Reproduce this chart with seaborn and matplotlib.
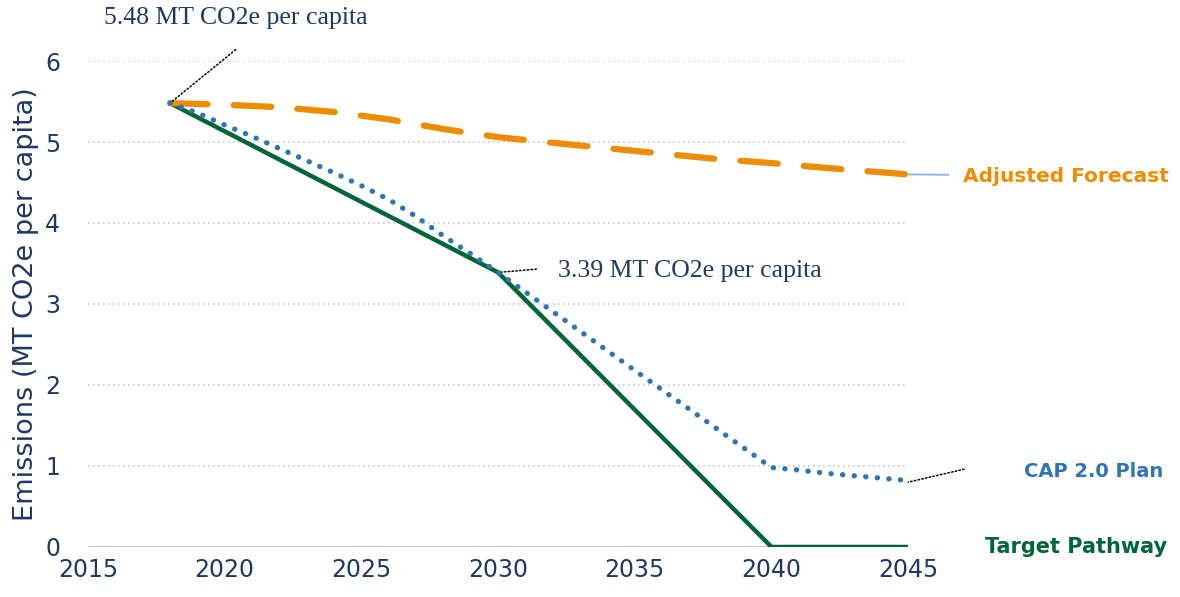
import matplotlib
matplotlib.use("Agg")
import matplotlib.pyplot as plt
import pandas as pd
import seaborn as sns

target_years = [2018, 2030, 2040, 2045]
target_vals = [5.48, 3.39, 0.0, 0.0]

plan_years = [2018, 2019, 2020, 2021, 2022, 2023, 2024, 2025, 2026, 2027, 2028, 2029, 2030,
              2035, 2040, 2041, 2042, 2043, 2044, 2045]
plan_vals = [5.48, 5.36, 5.21, 5.07, 4.92, 4.77, 4.62, 4.46, 4.29, 4.08, 3.84, 3.62, 3.39,
             2.18, 0.98, 0.95, 0.91, 0.88, 0.85, 0.82]

forecast_years = [2018, 2020, 2022, 2024, 2026, 2028, 2030, 2032, 2035, 2038, 2040, 2042, 2045]
forecast_vals = [5.48, 5.46, 5.43, 5.37, 5.28, 5.16, 5.06, 4.99, 4.89, 4.79, 4.74, 4.68, 4.60]

x_ticks = [2015, 2020, 2025, 2030, 2035, 2040, 2045]
y_ticks = [0, 1, 2, 3, 4, 5, 6]

NAVY = "#1f3864"
ORANGE = "#ee8c00"
BLUE = "#2e75b6"
GREEN = "#00663a"

sns.set_style("white")
plt.rcParams["font.family"] = ["DejaVu Sans"]

fig = plt.figure(figsize=(11.8, 5.97), dpi=100)
ax = fig.add_axes([0.0746, 0.0838, 0.695, 0.814])

df_target = pd.DataFrame({"year": target_years, "value": target_vals})
df_plan = pd.DataFrame({"year": plan_years, "value": plan_vals})
df_forecast = pd.DataFrame({"year": forecast_years, "value": forecast_vals})

# gridlines
for v in y_ticks[1:]:
    ax.axhline(v, color="#c8c8c8", lw=1.2, ls=(0, (1, 2)), zorder=0)
ax.axhline(0, color="#c8c8c8", lw=1.5, zorder=0)

sns.lineplot(data=df_forecast, x="year", y="value", ax=ax, color=ORANGE, lw=4.5,
             ls=(0, (6, 4.2)), dash_capstyle="round", zorder=3)
sns.lineplot(data=df_target, x="year", y="value", ax=ax, color=GREEN, lw=3.2, zorder=2)
sns.lineplot(data=df_plan, x="year", y="value", ax=ax, color=BLUE, lw=3.8,
             ls=(0, (0.05, 2.15)), dash_capstyle="round", zorder=4)

ax.set_xlim(2015, 2045)
ax.set_ylim(0, 6)
ax.set_xticks(x_ticks)
ax.set_yticks(y_ticks)
ax.tick_params(axis="both", labelsize=17, labelcolor=NAVY, length=0)
ax.tick_params(axis="y", pad=20)
ax.tick_params(axis="x", pad=8)
ax.set_xlabel("")
ax.set_ylabel("Emissions (MT CO2e per capita)", fontsize=19.5, color=NAVY, labelpad=4)
sns.despine(ax=ax, left=True, bottom=True)

# annotations
serif = ["Liberation Serif", "DejaVu Serif"]
dotted = dict(arrowstyle="-", color="black", lw=1.1, ls=(0, (1, 1.5)), shrinkA=0, shrinkB=0)
ax.text(2020.4, 6.53, "5.48 MT CO2e per capita", fontsize=18.5, color=NAVY,
        family=serif, ha="center", va="center")
ax.annotate("", xy=(2018, 5.48), xytext=(2020.4, 6.14), arrowprops=dotted,
            annotation_clip=False)
ax.text(2032.2, 3.41, "3.39 MT CO2e per capita", fontsize=18.5, color=NAVY,
        family=serif, ha="left", va="center")
ax.annotate("", xy=(2030, 3.39), xytext=(2031.4, 3.43), arrowprops=dotted,
            annotation_clip=False)

ax.annotate("Adjusted Forecast", xy=(2045, 4.60), xytext=(2047.0, 4.58),
            fontsize=14.5, color=ORANGE, fontweight="bold", ha="left", va="center",
            arrowprops=dict(arrowstyle="-", color="#7fb2f0", lw=1.3, shrinkA=8, shrinkB=0),
            annotation_clip=False)
ax.text(2051.8, 0.93, "CAP 2.0 Plan", fontsize=14, color=BLUE, fontweight="bold",
        ha="center", va="center")
ax.annotate("", xy=(2045.0, 0.80), xytext=(2047.05, 0.96), arrowprops=dotted,
            annotation_clip=False)
ax.text(2047.8, 0.0, "Target Pathway", fontsize=15, color=GREEN, fontweight="bold",
        ha="left", va="center")

fig.savefig("out.png", dpi=100)
